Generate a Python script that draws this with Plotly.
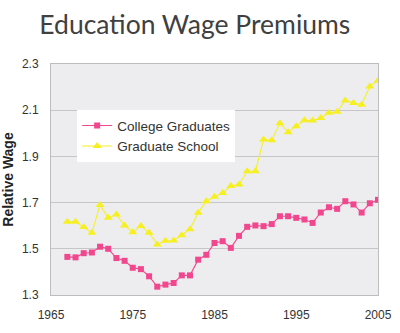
import plotly.graph_objects as go

years = list(range(1967, 2006))
college = [1.465, 1.463, 1.481, 1.484, 1.509, 1.500, 1.460, 1.448, 1.418, 1.412,
           1.381, 1.336, 1.345, 1.352, 1.385, 1.385, 1.453, 1.474, 1.525, 1.533,
           1.504, 1.556, 1.595, 1.601, 1.598, 1.607, 1.641, 1.641, 1.634, 1.627,
           1.612, 1.657, 1.680, 1.673, 1.706, 1.692, 1.657, 1.697, 1.712]
graduate = [1.617, 1.617, 1.594, 1.569, 1.690, 1.634, 1.648, 1.601, 1.572, 1.599,
            1.569, 1.519, 1.535, 1.536, 1.559, 1.585, 1.656, 1.706, 1.725, 1.742,
            1.772, 1.778, 1.836, 1.836, 1.973, 1.970, 2.043, 2.005, 2.031, 2.056,
            2.055, 2.066, 2.089, 2.093, 2.142, 2.131, 2.124, 2.203, 2.229]
x_ticks = [1965, 1975, 1985, 1995, 2005]
y_ticks = [1.3, 1.5, 1.7, 1.9, 2.1, 2.3]

PINK = "#F0478E"
YELLOW = "#F6F022"

fig = go.Figure()
fig.add_trace(go.Scatter(x=years, y=college, name="College Graduates", mode="lines+markers",
                         line=dict(color=PINK, width=1.1),
                         marker=dict(symbol="square", size=6, color=PINK)))
fig.add_trace(go.Scatter(x=years, y=graduate, name="Graduate School", mode="lines+markers",
                         line=dict(color=YELLOW, width=1.1),
                         marker=dict(symbol="triangle-up", size=8, color=YELLOW)))

fig.update_layout(
    width=400, height=333,
    margin=dict(l=51, r=22, t=64, b=38),
    paper_bgcolor="white",
    plot_bgcolor="#EDEDEF",
    font=dict(family="Liberation Sans, Arial, sans-serif", color="#333333"),
    title=dict(text="Education Wage Premiums", x=0.487, xanchor="center",
               y=0.925, yanchor="middle",
               font=dict(family="Lato, sans-serif", size=26.5, color="#404040")),
    legend=dict(x=0.08, y=0.80, xanchor="left", yanchor="top",
                bgcolor="white", borderwidth=0,
                font=dict(size=13.5, color="#333333"),
                itemwidth=30, tracegroupgap=0),
    xaxis=dict(range=[1965, 2005], tickvals=x_ticks, ticktext=[str(v) for v in x_ticks],
               showgrid=False, zeroline=False, showline=True, mirror=True,
               linecolor="#BDBDBD", linewidth=1, ticks="", automargin=False,
               ticklabelstandoff=9,
               tickfont=dict(size=12, color="#333333")),
    yaxis=dict(range=[1.3, 2.3], tickvals=y_ticks, ticktext=[f"{v:.1f}" for v in y_ticks],
               showgrid=True, gridcolor="#C6C6C6", gridwidth=1, zeroline=False,
               showline=True, mirror=True, linecolor="#BDBDBD", linewidth=1, ticks="",
               automargin=False, ticklabelstandoff=9,
               tickfont=dict(size=12, color="#333333"),
               title=dict(text="<b>Relative Wage</b>", standoff=5,
                          font=dict(size=14, color="#222222"))),
)

fig.write_html("out.html")
